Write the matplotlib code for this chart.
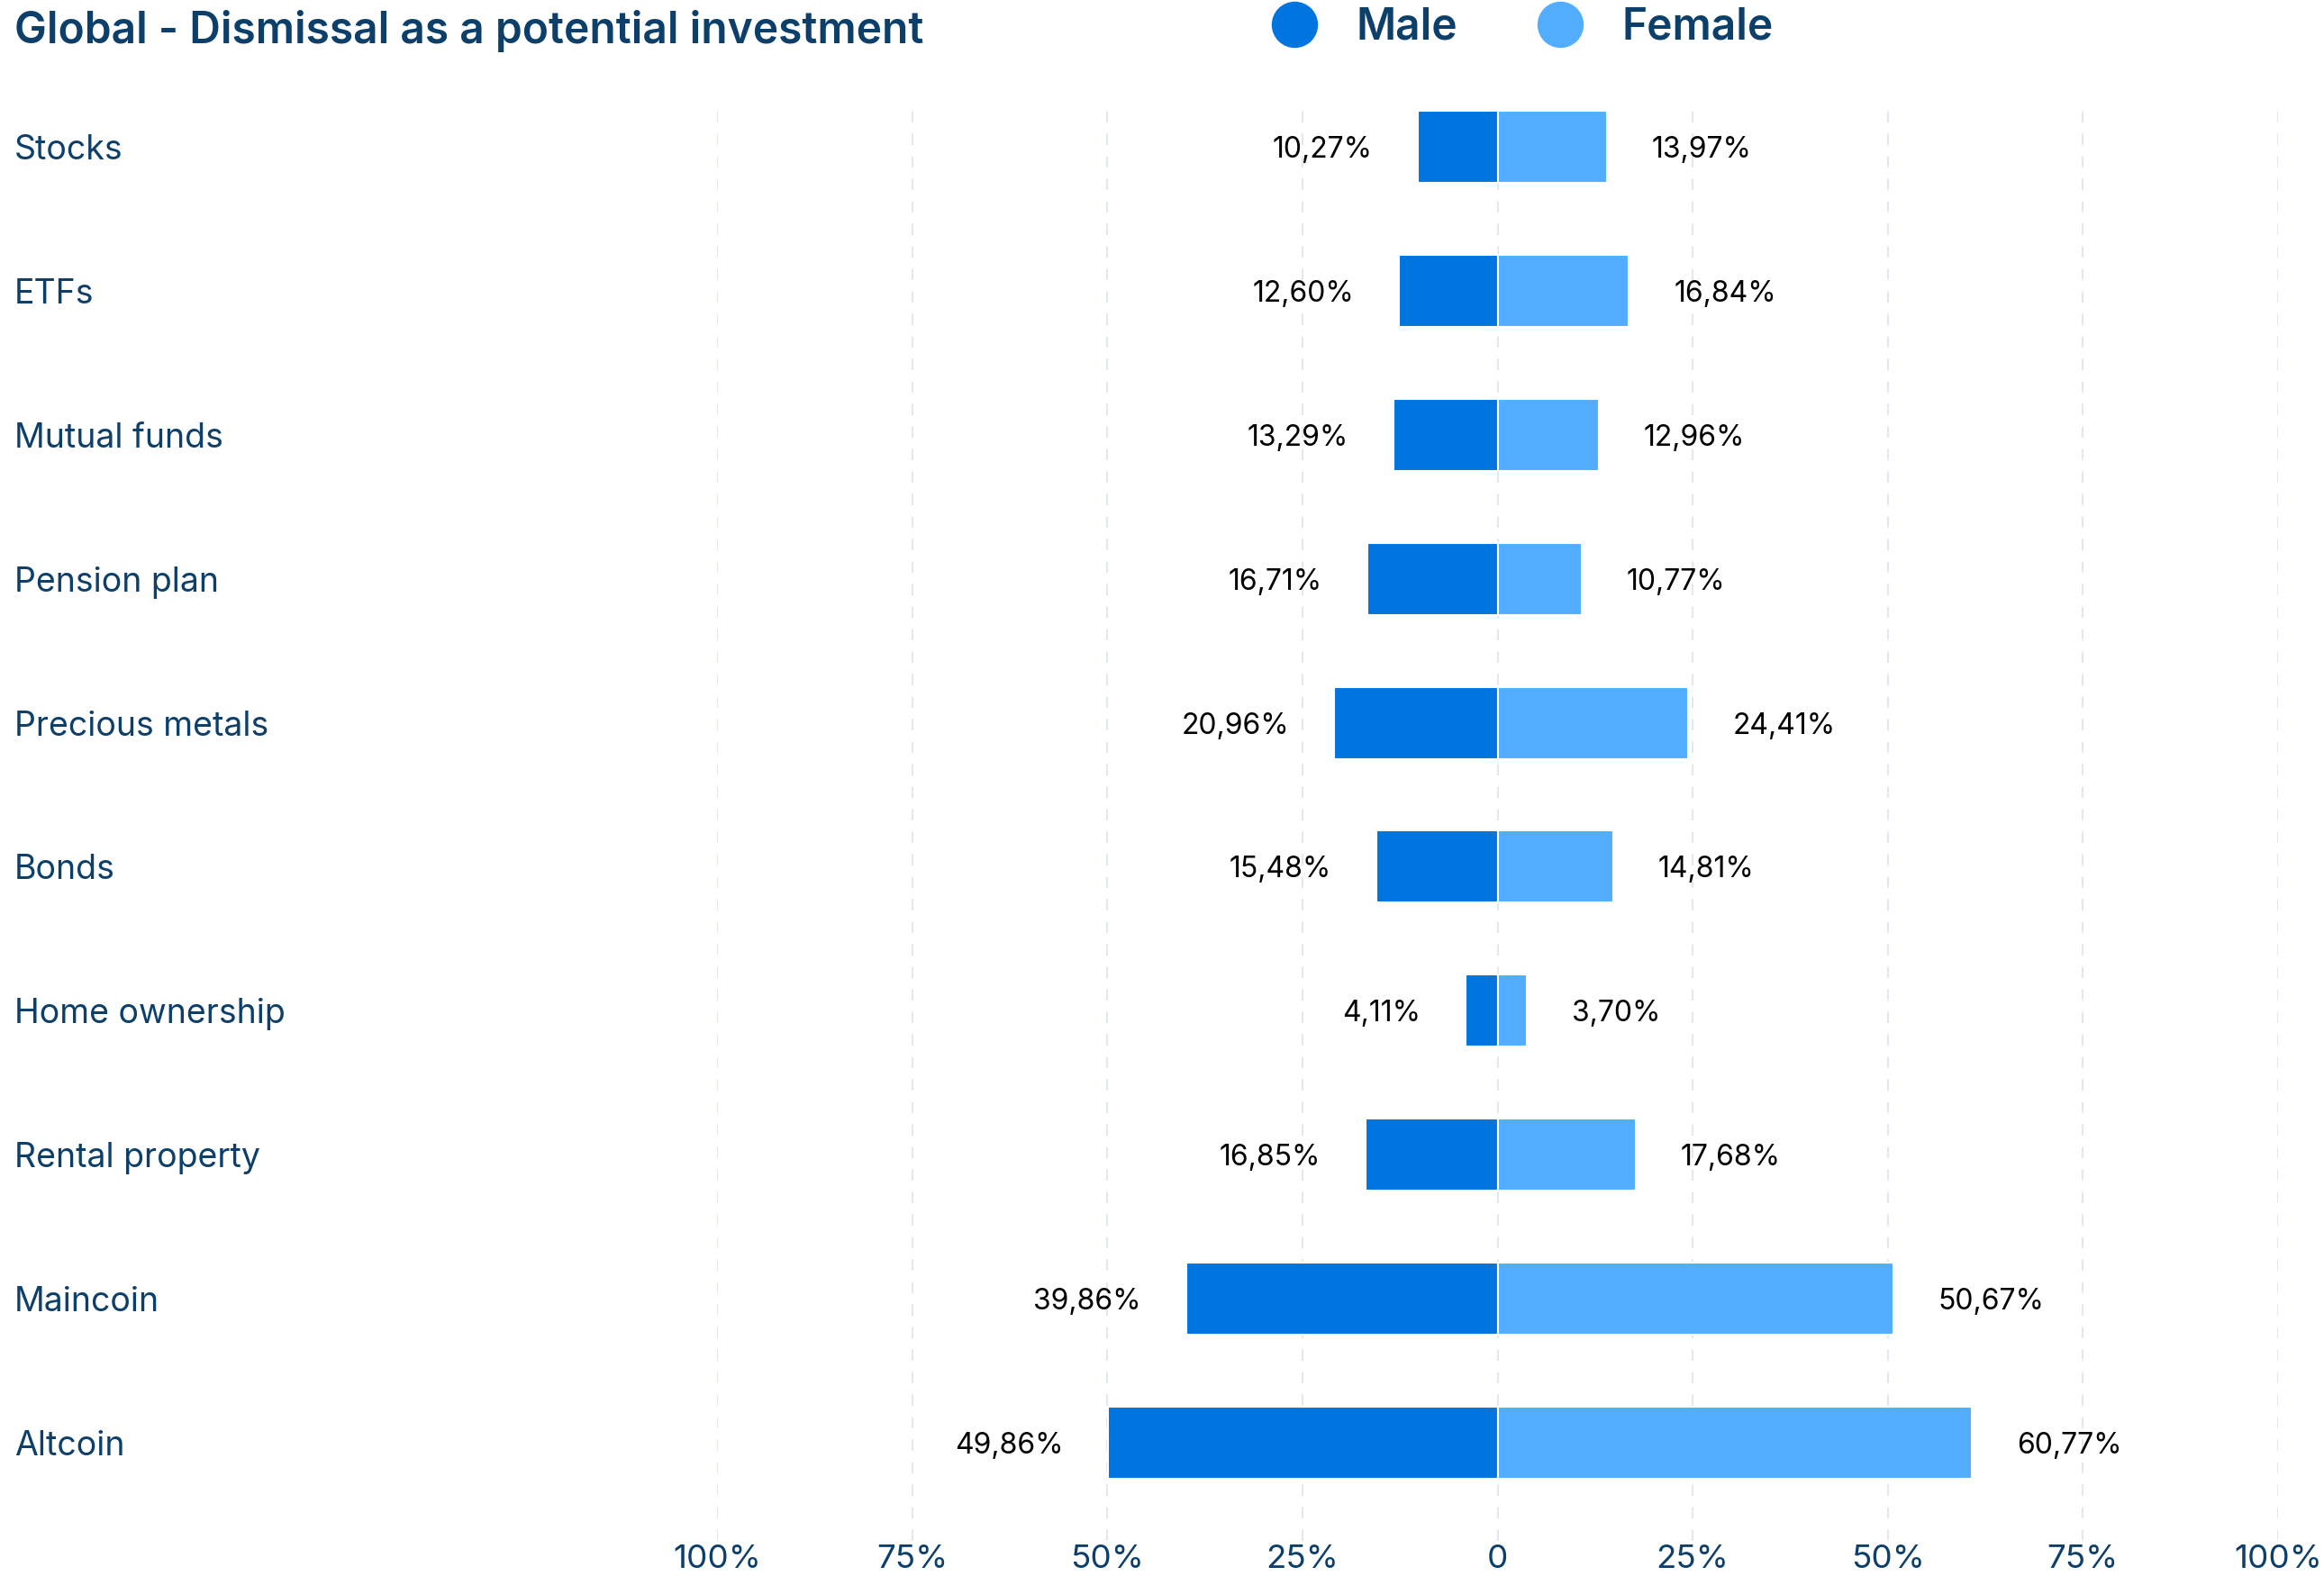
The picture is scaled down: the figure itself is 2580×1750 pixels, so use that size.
import matplotlib
matplotlib.use("Agg")
import matplotlib.pyplot as plt
from matplotlib.lines import Line2D
from matplotlib.ticker import FuncFormatter

plt.rcParams['font.family'] = ['Inter', 'DejaVu Sans']

categories = ['Stocks', 'ETFs', 'Mutual funds', 'Pension plan', 'Precious metals',
              'Bonds', 'Home ownership', 'Rental property', 'Maincoin', 'Altcoin']
male = [10.27, 12.60, 13.29, 16.71, 20.96, 15.48, 4.11, 16.85, 39.86, 49.86]
female = [13.97, 16.84, 12.96, 10.77, 24.41, 14.81, 3.70, 17.68, 50.67, 60.77]
xticks = [-100, -75, -50, -25, 0, 25, 50, 75, 100]

MALE_C = '#0075e0'
FEMALE_C = '#52adff'
NAVY = '#0d3f6b'
W, H = 2580, 1750

fig = plt.figure(figsize=(W / 100, H / 100), dpi=100)
ax = fig.add_axes([796 / W, 1 - 1711 / H, (2529 - 796) / W, (1711 - 118) / H])

y = list(range(len(categories)))
ax.barh(y, [-m for m in male], height=0.5, color=MALE_C, edgecolor='white', linewidth=1.5)
ax.barh(y, female, height=0.5, color=FEMALE_C, edgecolor='white', linewidth=1.5)

def fmt(v):
    return f"{v:.2f}".replace('.', ',') + '%'

for yi, m, f in zip(y, male, female):
    ax.annotate(fmt(m), (-m, yi), xytext=(-36, 0), textcoords='offset points',
                ha='right', va='center_baseline', fontsize=23, color='black')
    ax.annotate(fmt(f), (f, yi), xytext=(36, 0), textcoords='offset points',
                ha='left', va='center_baseline', fontsize=23, color='black')

ax.set_xlim(-100, 100)
ax.set_ylim(9.68, -0.28)
ax.set_xticks(xticks)
ax.xaxis.set_major_formatter(FuncFormatter(lambda v, p: '0' if v == 0 else f"{abs(int(v))}%"))
ax.set_yticks(y)
ax.set_yticklabels(categories, ha='left')
ax.tick_params(axis='y', length=0, pad=(796 - 16) * 0.72, labelsize=27, labelcolor=NAVY)
ax.tick_params(axis='x', length=0, pad=3, labelsize=26.5, labelcolor=NAVY)
ax.grid(axis='x', color='#e1e8f0', linestyle=(0, (6, 6)), linewidth=1.5)
ax.set_axisbelow(True)
for s in ax.spines.values():
    s.set_visible(False)

fig.text(16 / W, 1 - 48 / H, 'Global - Dismissal as a potential investment',
         fontsize=34.5, fontweight='semibold', color=NAVY, va='baseline', ha='left')

handles = [Line2D([], [], marker='o', linestyle='', markersize=36, color=MALE_C),
           Line2D([], [], marker='o', linestyle='', markersize=36, color=FEMALE_C)]
fig.legend(handles, ['Male', 'Female'], loc='center left', ncol=2,
           bbox_to_anchor=(1408 / W, 1 - 31 / H), frameon=False,
           prop={'size': 34.5, 'weight': 'semibold'}, labelcolor=NAVY,
           handletextpad=0.84, columnspacing=1.77, borderpad=0, borderaxespad=0,
           handlelength=1.2)

fig.savefig('out.png', dpi=100, facecolor='white')
